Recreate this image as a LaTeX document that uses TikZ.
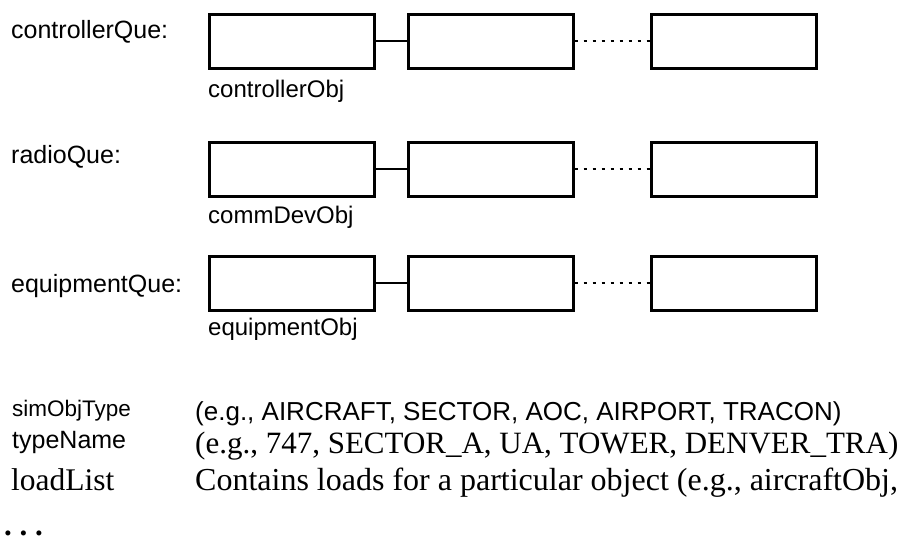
\documentclass[tikz,border=0pt]{standalone}
\usepackage{fontspec}
\setmainfont{Liberation Serif}
\setsansfont{Liberation Sans}
\usepackage{tikz}
\usetikzlibrary{calc}

\tikzset{
  objbox/.style={draw,line width=3pt,minimum width=165pt,minimum height=54pt,inner sep=0pt},
  quelabel/.style={anchor=base west,inner sep=0pt,font=\sffamily\fontsize{25}{25}\selectfont},
  objlabel/.style={anchor=base west,inner sep=0pt,font=\sffamily\fontsize{24}{24}\selectfont},
  fieldlabel/.style={anchor=base west,inner sep=0pt},
  link/.style={line width=2.5pt},
  more/.style={line width=2.5pt,dash pattern=on 3pt off 6pt}
}

\begin{document}
\begin{tikzpicture}[x=1pt,y=-1pt]
\useasboundingbox (0,0) rectangle (905,539);
% queue rows
\node[objbox] (c1) at (292,41) {};
\node[objbox] (c2) at (490.5,41) {};
\node[objbox] (c3) at (733.5,41) {};
\node[objbox] (r1) at (292,169) {};
\node[objbox] (r2) at (490.5,169) {};
\node[objbox] (r3) at (733.5,169) {};
\node[objbox] (e1) at (292,283) {};
\node[objbox] (e2) at (490.5,283) {};
\node[objbox] (e3) at (733.5,283) {};
\draw[link] (c1.east) -- (c2.west);
\draw[link] (r1.east) -- (r2.west);
\draw[link] (e1.east) -- (e2.west);
\draw[more] (c2.east) -- (c3.west);
\draw[more] (r2.east) -- (r3.west);
\draw[more] (e2.east) -- (e3.west);
% labels
\node[quelabel] (cq) at (11,38) {controllerQue:};
\node[quelabel] (rq) at (11,163) {radioQue:};
\node[quelabel] (eq) at (11,292) {equipmentQue:};
\node[objlabel] (co) at (208,97) {controllerObj};
\node[objlabel] (cd) at (208,223) {commDevObj};
\node[objlabel] (eo) at (208,335) {equipmentObj};
% fields
\node[fieldlabel,font=\sffamily\fontsize{22.5}{22.5}\selectfont] (f1) at (12,416) {simObjType};
\node[fieldlabel,font=\sffamily\fontsize{25}{25}\selectfont] (f2) at (12,448) {typeName};
\node[fieldlabel,font=\fontsize{31.5}{31.5}\selectfont] (f3) at (11,490) {loadList};
\node[fieldlabel,font=\sffamily\fontsize{26}{26}\selectfont] (d1) at (195,420) {(e.g., AIRCRAFT, SECTOR, AOC, AIRPORT, TRACON)};
\node[fieldlabel,font=\fontsize{31}{31}\selectfont] (d2) at (195,453) {(e.g., 747, SECTOR\_A, UA, TOWER, DENVER\_TRA)};
\node[fieldlabel,font=\fontsize{32}{32}\selectfont] (d3) at (195,490) {Contains loads for a particular object (e.g., aircraftObj,};
\node[fieldlabel,font=\bfseries\fontsize{31}{31}\selectfont] (dots) at (4,535) {.\ .\ .};
\end{tikzpicture}
\end{document}
